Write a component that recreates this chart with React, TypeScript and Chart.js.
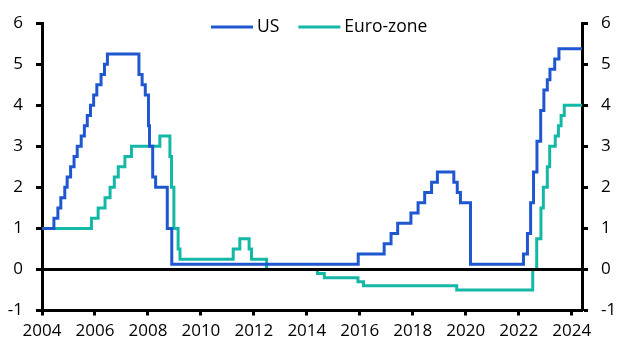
import React, { useEffect, useRef } from "react";
import { Chart, registerables } from "chart.js";

Chart.register(...registerables);

const seriesNames = ["US", "Euro-zone"];
const seriesColors = ["#1f57d0", "#14b8a6"];

const usDates = [
  2004.0, 2004.45, 2004.6, 2004.71, 2004.86, 2004.95, 2005.08, 2005.21, 2005.33, 2005.48,
  2005.6, 2005.71, 2005.83, 2005.95, 2006.07, 2006.23, 2006.36, 2006.47, 2007.66, 2007.78,
  2007.9, 2008.02, 2008.06, 2008.18, 2008.29, 2008.73, 2008.9, 2015.94, 2016.92,
  2017.18, 2017.43, 2017.93, 2018.2, 2018.45, 2018.71, 2018.93, 2019.55, 2019.68, 2019.8,
  2020.18, 2022.18, 2022.33, 2022.45, 2022.56, 2022.69, 2022.83, 2022.95, 2023.08,
  2023.18, 2023.36, 2023.52, 2024.4,
];
const usRates = [
  1.0, 1.25, 1.5, 1.75, 2.0, 2.25, 2.5, 2.75, 3.0, 3.25,
  3.5, 3.75, 4.0, 4.25, 4.5, 4.75, 5.0, 5.25, 4.75, 4.5,
  4.25, 3.5, 3.0, 2.25, 2.0, 1.0, 0.125, 0.375, 0.625,
  0.875, 1.125, 1.375, 1.625, 1.875, 2.125, 2.375, 2.125, 1.875, 1.625,
  0.125, 0.375, 0.875, 1.625, 2.375, 3.125, 3.875, 4.375, 4.625,
  4.875, 5.125, 5.375, 5.375,
];

const euDates = [
  2004.0, 2005.87, 2006.12, 2006.38, 2006.57, 2006.73, 2006.88, 2007.13, 2007.38, 2008.45,
  2008.83, 2008.89, 2008.98, 2009.14, 2009.21, 2011.22, 2011.47, 2011.82, 2011.91, 2012.48,
  2014.4, 2014.66, 2015.93, 2016.14, 2019.66, 2022.53, 2022.68, 2022.84, 2022.93, 2023.08,
  2023.17, 2023.38, 2023.5, 2023.6, 2023.72, 2024.4,
];
const euRates = [
  1.0, 1.25, 1.5, 1.75, 2.0, 2.25, 2.5, 2.75, 3.0, 3.25,
  2.75, 2.0, 1.0, 0.5, 0.25, 0.5, 0.75, 0.5, 0.25, 0.0,
  -0.1, -0.2, -0.3, -0.4, -0.5, 0.0, 0.75, 1.5, 2.0, 2.5,
  3.0, 3.25, 3.5, 3.75, 4.0, 4.0,
];

const xTickLabels = ["2004", "2006", "2008", "2010", "2012", "2014", "2016", "2018", "2020", "2022", "2024"];
const yTickLabels = ["-1", "0", "1", "2", "3", "4", "5", "6"];

const FONT = "'Open Sans', 'DejaVu Sans', sans-serif";

export default function App() {
  const ref = useRef<HTMLCanvasElement | null>(null);

  useEffect(() => {
    if (!ref.current) return;

    const zeroLine = {
      id: "zeroLine",
      afterDatasetsDraw(chart: any) {
        const { ctx, chartArea, scales } = chart;
        const y = scales.y.getPixelForValue(0);
        ctx.save();
        ctx.strokeStyle = "#000";
        ctx.lineWidth = 3;
        ctx.beginPath();
        ctx.moveTo(chartArea.left, y);
        ctx.lineTo(chartArea.right, y);
        ctx.stroke();
        ctx.restore();
      },
    };

    const legendPlugin = {
      id: "innerLegend",
      afterDraw(chart: any) {
        const { ctx } = chart;
        ctx.save();
        ctx.font = `17.5px ${FONT}`;
        ctx.textBaseline = "middle";
        ctx.fillStyle = "#000";
        let x = 211;
        const y = 27;
        seriesNames.forEach((name, i) => {
          ctx.strokeStyle = seriesColors[i];
          ctx.lineWidth = 3;
          ctx.beginPath();
          ctx.moveTo(x, y);
          ctx.lineTo(x + 42, y);
          ctx.stroke();
          x += 46;
          ctx.fillText(name, x, y);
          x += ctx.measureText(name).width + 19;
        });
        ctx.restore();
      },
    };

    const yAxis = (position: "left" | "right", width: number) => ({
      type: "linear" as const,
      position,
      min: -1,
      max: 6,
      ticks: {
        stepSize: 1,
        color: "#000",
        padding: 13,
        font: { family: FONT, size: 17 },
        callback: (v: number) => yTickLabels[Math.round(v) + 1] ?? "",
      },
      grid: {
        drawOnChartArea: false,
        drawTicks: true,
        tickLength: 6,
        tickWidth: 3,
        tickColor: "#000",
      },
      border: { display: true, color: "#000", width: 3 },
      afterFit: (scale: any) => {
        scale.width = width;
      },
    });

    const chart = new Chart(ref.current, {
      type: "line",
      data: {
        datasets: [
          {
            label: seriesNames[0],
            data: usDates.map((d, i) => ({ x: d, y: usRates[i] })),
            borderColor: seriesColors[0],
            backgroundColor: seriesColors[0],
            borderWidth: 3,
            pointRadius: 0,
            stepped: "before",
            yAxisID: "y",
          },
          {
            label: seriesNames[1],
            data: euDates.map((d, i) => ({ x: d, y: euRates[i] })),
            borderColor: seriesColors[1],
            backgroundColor: seriesColors[1],
            borderWidth: 3,
            pointRadius: 0,
            stepped: "before",
            yAxisID: "y",
          },
        ],
      },
      options: {
        responsive: false,
        animation: false,
        layout: { padding: { top: 15, left: 0, right: 0, bottom: 0 } },
        plugins: {
          legend: { display: false },
          tooltip: { enabled: false },
        },
        scales: {
          x: {
            type: "linear",
            min: 2004,
            max: 2024.39,
            ticks: {
              stepSize: 2,
              includeBounds: false,
              color: "#000",
              padding: 5,
              maxRotation: 0,
              autoSkip: false,
              font: { family: FONT, size: 17 },
              callback: (v: number) => xTickLabels[Math.round((v - 2004) / 2)] ?? "",
            },
            grid: {
              drawOnChartArea: false,
              drawTicks: true,
              tickLength: 5,
              tickWidth: 3,
              tickColor: "#000",
            },
            border: { display: true, color: "#000", width: 3 },
            afterFit: (scale: any) => {
              scale.height = 45.5;
            },
          },
          y: yAxis("left", 42),
          y2: yAxis("right", 49),
        },
      },
      plugins: [zeroLine, legendPlugin],
    });

    return () => chart.destroy();
  }, []);

  return (
    <div style={{ position: "absolute", left: 0, top: 0, width: 631, height: 356 }}>
      <canvas ref={ref} width={631} height={356} style={{ display: "block" }} />
    </div>
  );
}
